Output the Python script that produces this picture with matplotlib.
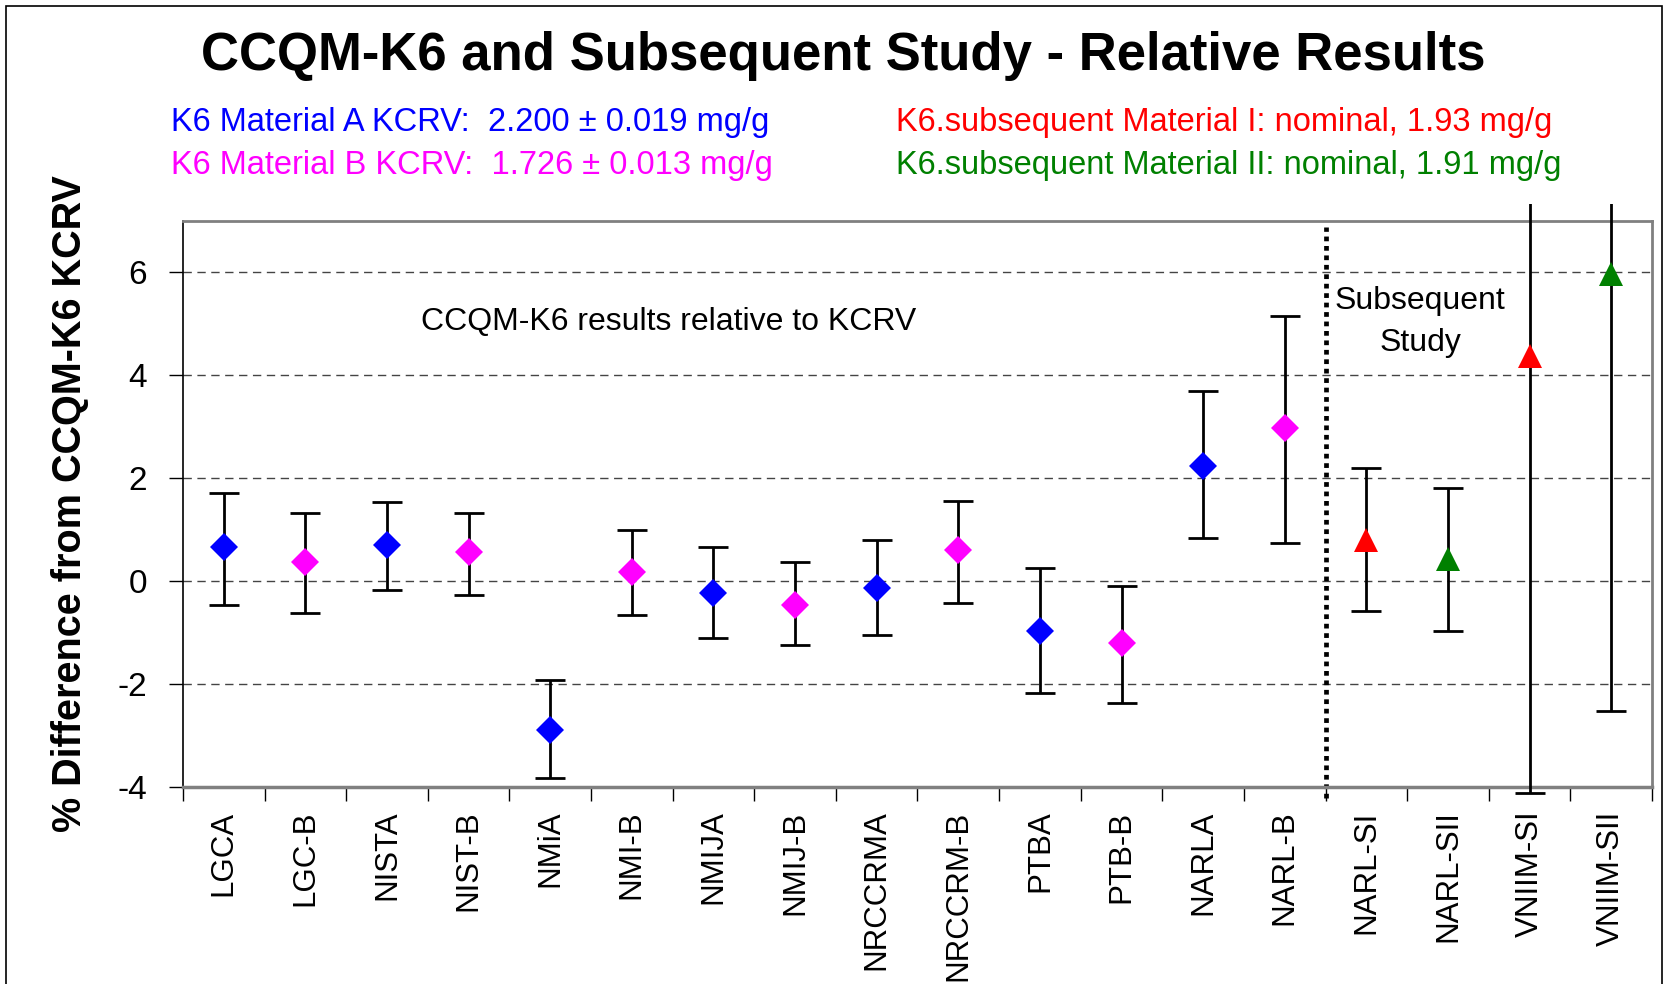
# CCQM-K6 relative results chart
import matplotlib
matplotlib.use("Agg")
import matplotlib.pyplot as plt
from matplotlib.patches import Rectangle

plt.rcParams['font.family'] = ['Liberation Sans', 'DejaVu Sans']

labels = ["LGCA", "LGC-B", "NISTA", "NIST-B", "NMiA", "NMI-B", "NMIJA", "NMIJ-B",
          "NRCCRMA", "NRCCRM-B", "PTBA", "PTB-B", "NARLA", "NARL-B",
          "NARL-SI", "NARL-SII", "VNIIM-SI", "VNIIM-SII"]
material = ["A", "B", "A", "B", "A", "B", "A", "B", "A", "B", "A", "B", "A", "B",
            "I", "II", "I", "II"]
values = [0.66, 0.37, 0.70, 0.56, -2.89, 0.17, -0.22, -0.46, -0.13, 0.60,
          -0.96, -1.20, 2.24, 2.97, 0.81, 0.43, 4.37, 5.97]
upper = [1.72, 1.33, 1.53, 1.33, -1.92, 1.00, 0.66, 0.37, 0.80, 1.56,
         0.25, -0.09, 3.70, 5.16, 2.20, 1.81, 12.85, 14.47]
lower = [-0.46, -0.61, -0.17, -0.26, -3.82, -0.66, -1.10, -1.24, -1.04, -0.42,
         -2.18, -2.37, 0.83, 0.75, -0.57, -0.96, -4.11, -2.53]

style = {"A": ("#0000FF", "D"), "B": ("#FF00FF", "D"),
         "I": ("#FF0000", "^"), "II": ("#008000", "^")}

fig = plt.figure(figsize=(16.77, 9.84), dpi=100)
ax = fig.add_axes([0.1091, 0.2002, 0.9851 - 0.1091, 0.7754 - 0.2002])

x = list(range(len(labels)))
err_lo = [v - l for v, l in zip(values, lower)]
err_hi = [u - v for u, v in zip(upper, values)]

# clip region a little larger than the plot area (as in the original)
clip = Rectangle((0, -0.03), 1, 1.06, transform=ax.transAxes, facecolor="none", edgecolor="none")
ax.add_patch(clip)

eb = ax.errorbar(x, values, yerr=[err_lo, err_hi], fmt="none", ecolor="black",
                 elinewidth=2.0, capsize=11, capthick=2.0, zorder=3)
for art in list(eb[1]) + list(eb[2]):
    art.set_clip_path(clip)

for key, (col, mk) in style.items():
    xs = [xi for xi, m in zip(x, material) if m == key]
    ys = [v for v, m in zip(values, material) if m == key]
    ms = 14 if mk == "D" else 17
    ax.plot(xs, ys, linestyle="none", marker=mk, color=col, markersize=ms,
            markeredgewidth=0, zorder=4)

ax.set_xlim(-0.5, len(labels) - 0.5)
ax.set_ylim(-4, 7)
ax.set_yticks([-4, -2, 0, 2, 4, 6])
ax.set_yticklabels(["-4", "-2", "0", "2", "4", "6"])
for g in [-2, 0, 2, 4, 6]:
    ax.axhline(g, color="#444444", lw=1.0, linestyle=(0, (6, 4)), zorder=1)

ax.set_xticks([i + 0.5 for i in range(-1, len(labels))], minor=False)
ax.set_xticklabels([])
ax.set_xticks(x, minor=True)
ax.set_xticklabels(labels, minor=True, rotation=90, fontsize=22.5, va="top")
ax.tick_params(axis="x", which="major", direction="out", length=10, width=1, color="black")
ax.tick_params(axis="x", which="minor", length=0, pad=17)
ax.tick_params(axis="y", direction="out", length=10, width=1, labelsize=24, pad=16)

for s in ["top", "right", "bottom"]:
    ax.spines[s].set_color("#808080")
ax.spines["bottom"].set_linewidth(2.5)
ax.spines["top"].set_linewidth(2)
ax.spines["right"].set_linewidth(2)
ax.spines["left"].set_color("black")
ax.spines["left"].set_linewidth(1.2)

ax.set_ylabel("% Difference from CCQM-K6 KCRV", fontsize=28.5, fontweight="bold", labelpad=20)

# separator between key comparison and subsequent study
ax.axvline(13.5, ymin=-0.02, ymax=0.99, color="black", lw=3.4,
           linestyle=(0, (1, 1)), clip_on=False, zorder=2)

ax.text(5.45, 5.04, "CCQM-K6 results relative to KCRV", fontsize=23,
        ha="center", va="center")
ax.text(14.66, 5.04, "Subsequent\nStudy", fontsize=23, ha="center", va="center",
        linespacing=1.5)

fig.text(0.503, 0.943, "CCQM-K6 and Subsequent Study - Relative Results",
         fontsize=38, fontweight="bold", ha="center", va="center")
fig.text(0.102, 0.875, "K6 Material A KCRV:  2.200 \u00b1 0.019 mg/g", color="#0000FF",
         fontsize=23.5, ha="left", va="center")
fig.text(0.102, 0.832, "K6 Material B KCRV:  1.726 \u00b1 0.013 mg/g", color="#FF00FF",
         fontsize=23.5, ha="left", va="center")
fig.text(0.534, 0.875, "K6.subsequent Material I: nominal, 1.93 mg/g", color="#FF0000",
         fontsize=23.5, ha="left", va="center")
fig.text(0.534, 0.832, "K6.subsequent Material II: nominal, 1.91 mg/g", color="#008000",
         fontsize=23.5, ha="left", va="center")

# outer chart border
fig.patches.append(Rectangle((6 / 1677, -0.01), 1656 / 1677, 1 - 6 / 984 + 0.01,
                             transform=fig.transFigure, fill=False,
                             edgecolor="black", lw=1.2))

fig.savefig("out.png", dpi=100)
